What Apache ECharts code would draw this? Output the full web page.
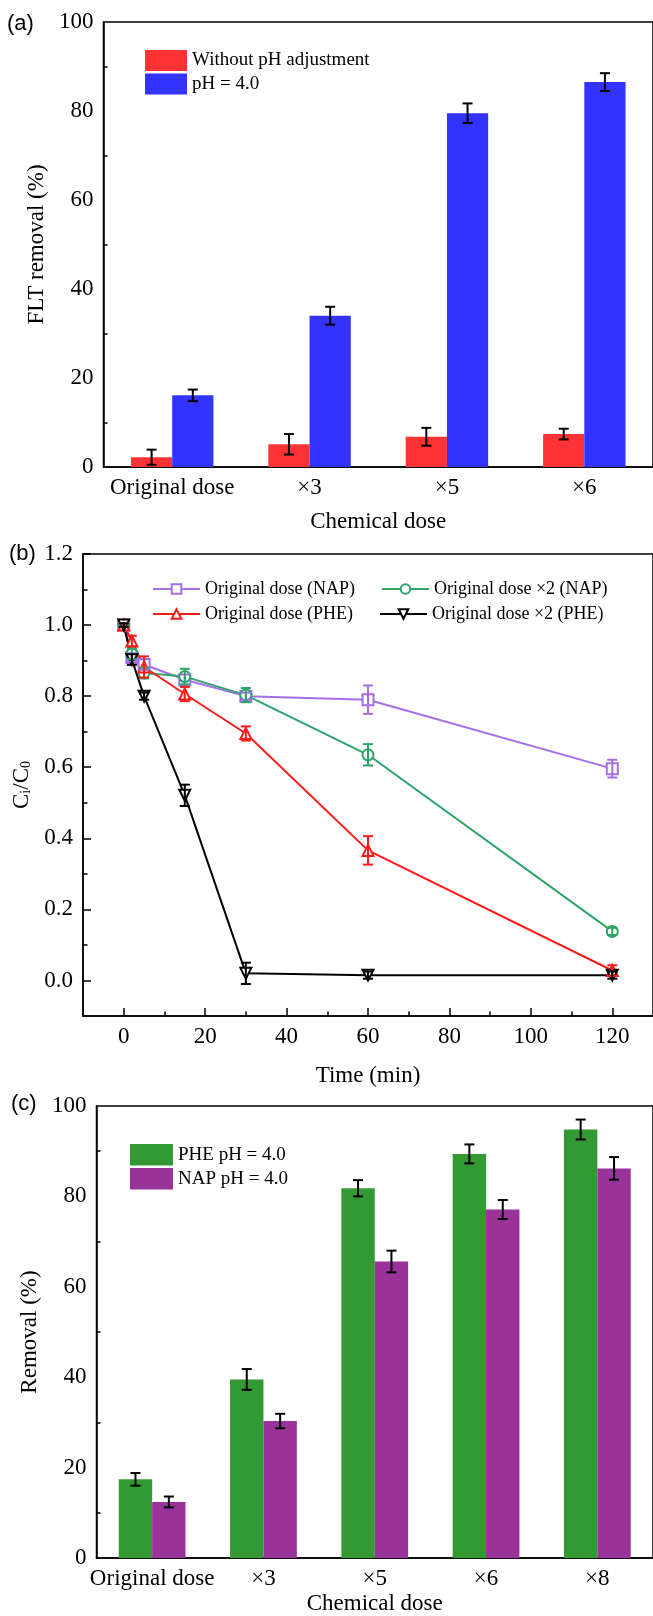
<!DOCTYPE html>
<html>
<head>
<meta charset="utf-8">
<script src="https://cdn.jsdelivr.net/npm/echarts@6/dist/echarts.min.js"></script>
<style>
html, body { margin: 0; padding: 0; background: #fff; }
#chart { width: 653px; height: 1616px; }
</style>
</head>
<body>
<div id="chart"></div>
<script>
// (a) FLT removal vs chemical dose
var doseA = ['Original dose', '×3', '×5', '×6'];
var fltNoPH = [2.2, 5.1, 6.8, 7.4];
var fltNoPHErr = [1.7, 2.3, 2.0, 1.2];
var fltPH4 = [16.1, 34.0, 79.5, 86.5];
var fltPH4Err = [1.3, 2.0, 2.2, 2.0];

// (b) Ct/C0 vs time
var timeMin = [0, 2, 5, 15, 30, 60, 120];
var napOrig = [1.0, 0.909, 0.889, 0.846, 0.80, 0.79, 0.596];
var napOrigErr = [0.005, 0.012, 0.015, 0.015, 0.01, 0.04, 0.025];
var napX2 = [1.0, 0.919, 0.865, 0.855, 0.803, 0.635, 0.138];
var napX2Err = [0.005, 0.015, 0.015, 0.022, 0.02, 0.03, 0.01];
var pheOrig = [1.0, 0.955, 0.882, 0.806, 0.695, 0.366, 0.028];
var pheOrigErr = [0.005, 0.015, 0.03, 0.02, 0.02, 0.04, 0.015];
var pheX2 = [1.0, 0.903, 0.80, 0.521, 0.02, 0.015, 0.015];
var pheX2Err = [0.005, 0.015, 0.01, 0.03, 0.03, 0.01, 0.01];
var ticksBx = [0, 20, 40, 60, 80, 100, 120];
var minorBx = [10, 30, 50, 70, 90, 110];
var ticksBy = [0, 0.2, 0.4, 0.6, 0.8, 1.0, 1.2];
var minorBy = [0.1, 0.3, 0.5, 0.7, 0.9, 1.1];

// (c) removal vs chemical dose at pH 4
var doseC = ['Original dose', '×3', '×5', '×6', '×8'];
var phePH4 = [17.4, 39.5, 81.8, 89.4, 94.8];
var phePH4Err = [1.4, 2.3, 1.8, 2.1, 2.2];
var napPH4 = [12.4, 30.3, 65.6, 77.1, 86.2];
var napPH4Err = [1.2, 1.6, 2.4, 2.1, 2.5];

var serif = 'Liberation Serif';
var chart = echarts.init(document.getElementById('chart'));

function errData(xs, ys, es) {
    return ys.map(function (y, i) {
        return [xs ? xs[i] : i, y - es[i], y + es[i]];
    });
}

function errRender(shift, color) {
    return function (params, api) {
        var band = api.size([1, 0])[0];
        var top = api.coord([api.value(0), api.value(2)]);
        var bot = api.coord([api.value(0), api.value(1)]);
        var x = top[0] + shift * band;
        var st = { stroke: color, lineWidth: 2 };
        return {
            type: 'group',
            children: [
                { type: 'line', shape: { x1: x, y1: top[1], x2: x, y2: bot[1] }, style: st },
                { type: 'line', shape: { x1: x - 5, y1: top[1], x2: x + 5, y2: top[1] }, style: st },
                { type: 'line', shape: { x1: x - 5, y1: bot[1], x2: x + 5, y2: bot[1] }, style: st }
            ]
        };
    };
}

function errSeries(xi, yi, data, shift, color) {
    return {
        type: 'custom',
        xAxisIndex: xi,
        yAxisIndex: yi,
        renderItem: errRender(shift, color),
        data: data,
        encode: { x: 0, y: [1, 2] },
        z: 5,
        silent: true
    };
}

var axisLine = { show: true, onZero: false, lineStyle: { color: '#000', width: 1.5 } };
var lbl = { color: '#000', fontFamily: serif, fontSize: 23 };
var nameStyle = { color: '#000', fontFamily: serif, fontSize: 23 };

function barY(gi, name, gap) {
    return {
        type: 'value', gridIndex: gi, position: 'left', min: 0, max: 100, interval: 20,
        name: name, nameLocation: 'middle', nameGap: gap, nameTextStyle: nameStyle,
        axisLine: axisLine,
        axisTick: { inside: true, length: 6, lineStyle: { color: '#000', width: 1.5 } },
        minorTick: { show: true, splitNumber: 2, length: 4, lineStyle: { color: '#000', width: 1.5 } },
        axisLabel: Object.assign({ margin: 10 }, lbl),
        splitLine: { show: false }
    };
}

function barX(gi, cats, gap) {
    return {
        type: 'category', gridIndex: gi, position: 'bottom', data: cats,
        name: 'Chemical dose', nameLocation: 'middle', nameGap: gap, nameTextStyle: nameStyle,
        axisLine: axisLine, axisTick: { show: false },
        axisLabel: Object.assign({ margin: 9, interval: 0 }, lbl)
    };
}

var frame = { show: true, borderColor: '#000', borderWidth: 1.5, backgroundColor: 'transparent' };
var legendText = { color: '#000', fontFamily: serif, fontSize: 19 };
var lineText = { color: '#000', fontFamily: serif, fontSize: 18 };
var labelFont = { fontFamily: 'Liberation Sans', fontSize: 22, fontWeight: 'normal', color: '#000' };

var lineSeries = [
    { name: 'Original dose (NAP)', data: napOrig, err: napOrigErr, color: '#a46ee8', symbol: 'emptyRect', rot: 0 },
    { name: 'Original dose ×2 (NAP)', data: napX2, err: napX2Err, color: '#2ea36a', symbol: 'emptyCircle', rot: 0 },
    { name: 'Original dose (PHE)', data: pheOrig, err: pheOrigErr, color: '#ff1a1a', symbol: 'emptyTriangle', rot: 0 },
    { name: 'Original dose ×2 (PHE)', data: pheX2, err: pheX2Err, color: '#000000', symbol: 'emptyTriangle', rot: 180 }
];

var series = [
    { type: 'bar', name: 'Without pH adjustment', xAxisIndex: 0, yAxisIndex: 0, data: fltNoPH,
      barWidth: '30%', barGap: '0%', itemStyle: { color: '#ff3333' } },
    { type: 'bar', name: 'pH = 4.0', xAxisIndex: 0, yAxisIndex: 0, data: fltPH4,
      barWidth: '30%', barGap: '0%', itemStyle: { color: '#3333ff' } },
    errSeries(0, 0, errData(null, fltNoPH, fltNoPHErr), -0.15, '#000'),
    errSeries(0, 0, errData(null, fltPH4, fltPH4Err), 0.15, '#000'),
    { type: 'bar', name: 'PHE pH = 4.0', xAxisIndex: 3, yAxisIndex: 3, data: phePH4,
      barWidth: '30%', barGap: '0%', itemStyle: { color: '#339933' } },
    { type: 'bar', name: 'NAP pH = 4.0', xAxisIndex: 3, yAxisIndex: 3, data: napPH4,
      barWidth: '30%', barGap: '0%', itemStyle: { color: '#993399' } },
    errSeries(3, 3, errData(null, phePH4, phePH4Err), -0.15, '#000'),
    errSeries(3, 3, errData(null, napPH4, napPH4Err), 0.15, '#000')
];

lineSeries.forEach(function (s) {
    series.push({
        type: 'line', name: s.name, xAxisIndex: 1, yAxisIndex: 1,
        data: timeMin.map(function (t, i) { return [t, s.data[i]]; }),
        symbol: s.symbol, symbolRotate: s.rot, symbolSize: 11,
        lineStyle: { color: s.color, width: 2 },
        itemStyle: { color: s.color, borderColor: s.color, borderWidth: 1.5 },
        z: 3
    });
    series.push(errSeries(1, 1, errData(timeMin, s.data, s.err), 0, s.color));
});

var option = {
    animation: false,
    backgroundColor: '#fff',
    textStyle: { fontFamily: serif },
    title: [
        { text: '(a)', left: 7, top: 13, padding: 0, textStyle: labelFont },
        { text: '(b)', left: 9, top: 543, padding: 0, textStyle: labelFont },
        { text: '(c)', left: 11, top: 1093, padding: 0, textStyle: labelFont }
    ],
    grid: [
        Object.assign({ left: 103.5, top: 22, width: 555.5, height: 445 }, frame),
        Object.assign({ left: 83, top: 554, width: 576, height: 462 }, frame),
        Object.assign({ left: 96.5, top: 1106, width: 562.5, height: 453 }, frame)
    ],
    legend: [
        { data: ['Without pH adjustment', 'pH = 4.0'], orient: 'vertical', left: 145, top: 50,
          itemWidth: 42, itemHeight: 21, itemGap: 2.5, icon: 'rect', selectedMode: false, padding: 0,
          textStyle: legendText },
        { data: ['Original dose (NAP)', 'Original dose ×2 (NAP)'], left: 152, top: 580,
          itemWidth: 47, itemHeight: 12, itemGap: 26, selectedMode: false, padding: 0,
          textStyle: lineText },
        { data: ['Original dose (PHE)', 'Original dose ×2 (PHE)'], left: 152, top: 605,
          itemWidth: 47, itemHeight: 12, itemGap: 26, selectedMode: false, padding: 0,
          textStyle: lineText },
        { data: ['PHE pH = 4.0', 'NAP pH = 4.0'], orient: 'vertical', left: 130, top: 1144,
          itemWidth: 43, itemHeight: 21.5, itemGap: 2.5, icon: 'rect', selectedMode: false, padding: 0,
          textStyle: legendText }
    ],
    xAxis: [
        barX(0, doseA, 43),
        {
            type: 'value', gridIndex: 1, position: 'bottom', min: -10, max: 130,
            name: 'Time (min)', nameLocation: 'middle', nameGap: 48, nameTextStyle: nameStyle,
            axisLine: axisLine,
            axisTick: { inside: true, length: 8, customValues: ticksBx, lineStyle: { color: '#000', width: 1.5 } },
            axisLabel: Object.assign({ margin: 9, customValues: ticksBx }, lbl),
            splitLine: { show: false }
        },
        {
            type: 'value', gridIndex: 1, position: 'bottom', min: -10, max: 130,
            axisLine: { show: false, onZero: false },
            axisTick: { inside: true, length: 4.5, customValues: minorBx, lineStyle: { color: '#000', width: 1.5 } },
            axisLabel: { show: false }, splitLine: { show: false }
        },
        barX(2, doseC, 34)
    ],
    yAxis: [
        barY(0, 'FLT removal (%)', 48),
        {
            type: 'value', gridIndex: 1, position: 'left', min: -0.1, max: 1.2,
            name: '{m|C}{s|i}{m|/C}{s|0}', nameLocation: 'middle', nameGap: 46,
            nameTextStyle: {
                color: '#000', fontFamily: serif, fontSize: 23,
                rich: {
                    m: { fontFamily: serif, fontSize: 23, color: '#000' },
                    s: { fontFamily: serif, fontSize: 14, color: '#000', verticalAlign: 'bottom', lineHeight: 10 }
                }
            },
            axisLine: axisLine,
            axisTick: { inside: true, length: 8, customValues: ticksBy, lineStyle: { color: '#000', width: 1.5 } },
            axisLabel: Object.assign({
                margin: 10, customValues: ticksBy,
                formatter: function (v) { return v.toFixed(1); }
            }, lbl),
            splitLine: { show: false }
        },
        {
            type: 'value', gridIndex: 1, position: 'left', min: -0.1, max: 1.2,
            axisLine: { show: false, onZero: false },
            axisTick: { inside: true, length: 4.5, customValues: minorBy, lineStyle: { color: '#000', width: 1.5 } },
            axisLabel: { show: false }, splitLine: { show: false }
        },
        barY(2, 'Removal (%)', 51)
    ],
    series: series
};

chart.setOption(option);
</script>
</body>
</html>
